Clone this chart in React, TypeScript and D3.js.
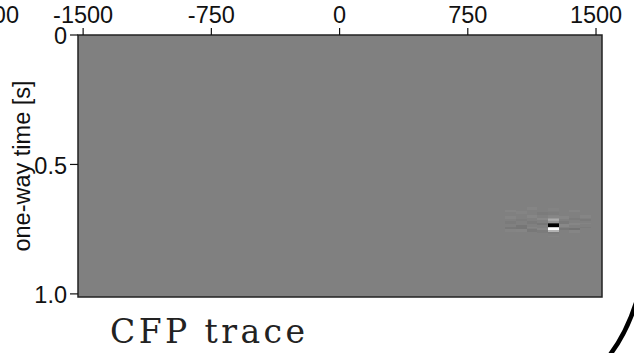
import React from "react";
import * as d3 from "d3";

// Axis ticks
const xTicks = [-1500, -750, 0, 750, 1500];
const yTicks = [0, 0.5, 1.0];
const yTickLabels = ["0", "0.5", "1.0"];

// Event patch: trace positions (m), time samples (s) and amplitudes (-1..1)
const eventTraces = [1000, 1062.5, 1125, 1187.5, 1250, 1312.5, 1375, 1437.5];
const eventTimes = [
  0.665, 0.67, 0.675, 0.68, 0.685, 0.69, 0.695, 0.7, 0.705, 0.71, 0.715, 0.72,
  0.725, 0.73, 0.735, 0.74, 0.745, 0.75, 0.755, 0.76, 0.765, 0.77, 0.775, 0.78,
];
const eventAmps = [
  [0, 0, 0.04, 0, 0, 0, 0, 0],
  [0, 0, 0.04, 0, 0.02, 0, 0, 0],
  [0.04, 0, 0, 0, 0.02, 0, 0.04, 0],
  [0.04, 0.03, 0, 0, 0, 0, 0.04, 0],
  [0, 0.03, 0, -0.04, -0.02, 0, 0, 0],
  [0, 0, 0, -0.04, -0.02, 0, 0, 0],
  [0, 0, 0.05, 0, 0.03, 0, 0, 0.04],
  [0.04, 0, 0.05, 0, 0.05, 0.05, 0, 0.04],
  [0.04, 0, 0, 0.06, 0.2, 0.05, -0.04, 0],
  [0, -0.03, 0, 0.06, 0.35, 0, -0.04, -0.05],
  [0, -0.03, 0, 0, 0.3, 0, 0, -0.05],
  [-0.04, 0, -0.05, 0, 0.15, -0.05, 0, 0],
  [-0.04, 0, -0.05, -0.07, -0.6, -0.05, 0.05, 0.03],
  [0, 0, 0, -0.07, -1, 0.06, 0.05, 0],
  [0, -0.08, 0, 0, -1, 0.06, 0, 0],
  [-0.06, -0.08, 0.04, 0, 0.6, 0, 0, -0.04],
  [-0.06, -0.08, 0, 0.05, 1, -0.07, -0.1, 0],
  [0.03, 0.04, -0.06, 0.05, 1, -0.07, -0.1, 0],
  [0.03, 0.04, -0.06, -0.04, 0.4, 0, 0.04, 0],
  [0, 0, 0, -0.04, -0.05, 0, 0.04, 0],
  [0, 0, 0, 0, -0.03, 0, 0, 0],
  [0, 0, 0, 0, 0, 0, 0, 0],
  [0, 0, 0, 0, 0.02, 0, 0, 0],
  [0, 0, 0, 0, 0, 0, 0, 0],
];
const traceSpacing = 62.5;
const timeStep = 0.005;

const W = 634;
const H = 353;
const left = 78;
const right = 602;
const top = 35;
const bottom = 297;

export default function App() {
  const x = d3.scaleLinear().domain([-1530, 1535]).range([left, right]);
  const y = d3.scaleLinear().domain([0, 1.012]).range([top, bottom]);
  const gray = (a: number) => {
    const v = Math.max(0, Math.min(255, Math.round(128 + a * 127)));
    return `rgb(${v},${v},${v})`;
  };
  const font = "'Liberation Sans', Arial, Helvetica, sans-serif";
  const fs = 23.5;

  const cells: JSX.Element[] = [];
  eventTimes.forEach((t, i) => {
    eventTraces.forEach((tr, j) => {
      const a = eventAmps[i][j];
      if (a === 0) return;
      const x0 = x(tr - traceSpacing / 2);
      const x1 = x(tr + traceSpacing / 2);
      const y0 = y(t);
      const y1 = y(t + timeStep);
      cells.push(
        <rect key={`${i}-${j}`} x={x0} y={y0} width={x1 - x0} height={y1 - y0} fill={gray(a)} />
      );
    });
  });

  return (
    <svg
      width={W}
      height={H}
      style={{ position: "absolute", left: 0, top: 0, background: "#fff" }}
    >
      <rect x={0} y={0} width={W} height={H} fill="#fff" />
      {/* partial label of neighbouring panel */}
      <text x={19} y={23} fontFamily={font} fontSize={fs} textAnchor="end" fill="#111">
        1500
      </text>
      {/* image */}
      <rect x={left} y={top} width={right - left} height={bottom - top} fill="#808080" />
      <g shapeRendering="crispEdges">{cells}</g>
      <rect
        x={left}
        y={top}
        width={right - left}
        height={bottom - top}
        fill="none"
        stroke="#222"
        strokeWidth={1.5}
      />
      {/* top axis */}
      {xTicks.map((v) => (
        <g key={v}>
          <line x1={x(v)} x2={x(v)} y1={top} y2={top - 7} stroke="#111" strokeWidth={1.2} />
          <text x={x(v)} y={23} fontFamily={font} fontSize={fs} textAnchor="middle" fill="#111">
            {v}
          </text>
        </g>
      ))}
      {/* left axis */}
      {yTicks.map((v, i) => (
        <g key={v}>
          <line x1={left} x2={left - 8} y1={y(v)} y2={y(v)} stroke="#111" strokeWidth={1.2} />
          <text
            x={67}
            y={y(v) + 3}
            fontFamily={font}
            fontSize={fs}
            textAnchor="end"
            dominantBaseline="middle"
            fill="#111"
          >
            {yTickLabels[i]}
          </text>
        </g>
      ))}
      <text
        transform={`translate(30,166) rotate(-90)`}
        fontFamily={font}
        fontSize={fs}
        textAnchor="middle"
        fill="#111"
      >
        one-way time [s]
      </text>
      {/* title */}
      <text
        x={110}
        y={343}
        fontFamily="'DejaVu Serif', 'Liberation Serif', serif"
        fontSize={33}
        textLength={195}
        lengthAdjust="spacing"
        fill="#222"
      >
        CFP trace
      </text>
      {/* border curve */}
      <path d="M 609 356 Q 626 334 636 303" fill="none" stroke="#000" strokeWidth={4.5} />
    </svg>
  );
}
